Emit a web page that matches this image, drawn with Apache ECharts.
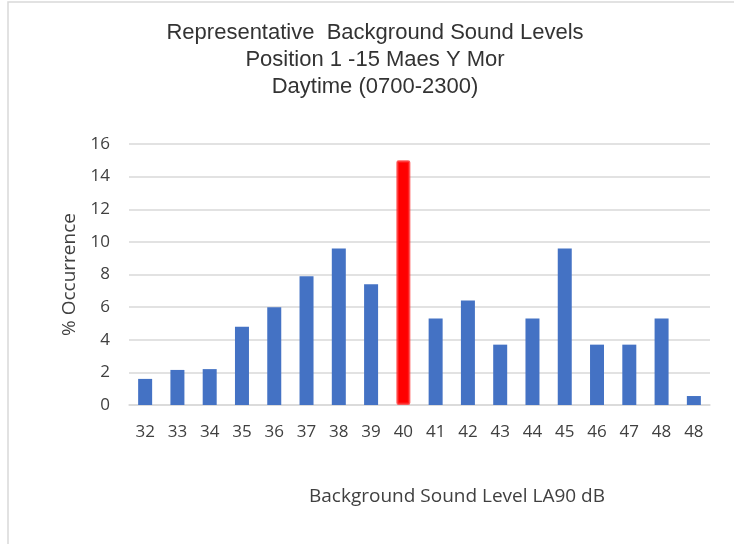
<!DOCTYPE html>
<html><head><meta charset="utf-8">
<script src="https://cdn.jsdelivr.net/npm/echarts@6/dist/echarts.min.js"></script>
<style>html,body{margin:0;padding:0;background:#fff}#c{width:734px;height:544px}</style>
</head><body><div id="c"></div>
<script>
const categories = ['32','33','34','35','36','37','38','39','40','41','42','43','44','45','46','47','48','48'];
const occurrence = [1.6,2.15,2.2,4.8,6.0,7.9,9.6,7.4,15.0,5.3,6.4,3.7,5.3,9.6,3.7,3.7,5.3,0.55];
const highlightIndex = 8;
const yTicks = {min:0, max:16, interval:2};
const titleLines = ['Representative  Background Sound Levels','Position 1 -15 Maes Y Mor','Daytime (0700-2300)'];
const xName = 'Background Sound Level LA90 dB';
const yName = '% Occurrence';

const chart = echarts.init(document.getElementById('c'), null, {renderer:'canvas'});
const data = occurrence.map((v,i)=> i===highlightIndex ? {
  value:v, itemStyle:{color:'#ff0000', borderColor:'rgba(255,40,40,0.75)', borderWidth:2.5, borderRadius:1}
} : v);
chart.setOption({
  animation:false,
  backgroundColor:'#fff',
  graphic:[
    {type:'rect', shape:{x:8,y:2,width:800,height:700}, style:{fill:'none', stroke:'#d9d9d9', lineWidth:1.5}, silent:true},
    {type:'text', x:375, y:19, style:{text:titleLines.join('\n'), font:'22px "Liberation Sans", sans-serif', fill:'#333', align:'center', verticalAlign:'top', lineHeight:27}},
    {type:'text', x:457, y:497, style:{text:xName, font:'19px "Open Sans", sans-serif', fill:'#404040', align:'center', verticalAlign:'middle'}}
  ],
  grid:{left:129, right:24, top:144, bottom:139},
  xAxis:{type:'category', data:categories,
    axisLine:{lineStyle:{color:'#d9d9d9', width:1.5}}, axisTick:{show:false},
    axisLabel:{color:'#404040', fontSize:17, fontFamily:'"Open Sans", sans-serif', margin:19}},
  yAxis:{type:'value', min:yTicks.min, max:yTicks.max, interval:yTicks.interval,
    name:yName, nameLocation:'middle', nameGap:50, nameRotate:90,
    nameTextStyle:{color:'#404040', fontSize:19, fontFamily:'"Open Sans", sans-serif'},
    axisLabel:{color:'#404040', fontSize:17, fontFamily:'"Open Sans", sans-serif', margin:19},
    splitLine:{lineStyle:{color:'#d9d9d9', width:1.5}}, axisLine:{show:false}, axisTick:{show:false}},
  series:[{type:'bar', data:data, barWidth:14, itemStyle:{color:'#4472c4'}}]
});
</script></body></html>
